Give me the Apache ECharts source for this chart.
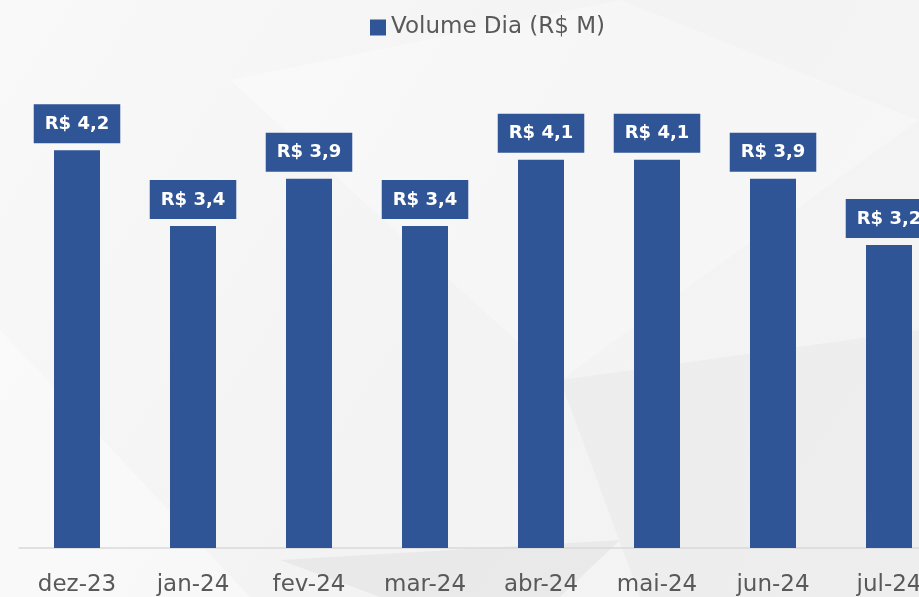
<!DOCTYPE html>
<html>
<head>
<meta charset="utf-8">
<script src="https://cdn.jsdelivr.net/npm/echarts@6/dist/echarts.min.js"></script>
<style>
  html, body { margin: 0; padding: 0; }
  #chart { width: 919px; height: 597px; }
</style>
</head>
<body>
<div id="chart"></div>
<script>
// dados do gráfico
const meses = ['dez-23', 'jan-24', 'fev-24', 'mar-24', 'abr-24', 'mai-24', 'jun-24', 'jul-24'];
const volumeDia = [4.2, 3.4, 3.9, 3.4, 4.1, 4.1, 3.9, 3.2];

const chart = echarts.init(document.getElementById('chart'));

const option = {
  backgroundColor: new echarts.graphic.LinearGradient(0, 0, 1, 1, [
    { offset: 0, color: '#f9f9f9' },
    { offset: 0.5, color: '#f3f3f3' },
    { offset: 1, color: '#f4f4f4' }
  ]),
  // formas decorativas do fundo
  graphic: [
    { type: 'polygon', silent: true, z: -10, shape: { points: [[230, 80], [620, 0], [919, 120], [560, 380]] }, style: { fill: 'rgba(255,255,255,0.3)' } },
    { type: 'polygon', silent: true, z: -10, shape: { points: [[560, 380], [919, 330], [919, 597], [640, 597]] }, style: { fill: 'rgba(0,0,0,0.025)' } },
    { type: 'polygon', silent: true, z: -10, shape: { points: [[0, 330], [250, 597], [0, 597]] }, style: { fill: 'rgba(255,255,255,0.4)' } },
    { type: 'polygon', silent: true, z: -10, shape: { points: [[280, 560], [620, 540], [560, 597], [380, 597]] }, style: { fill: 'rgba(0,0,0,0.04)' } }
  ],
  legend: {
    top: 11,
    left: 365,
    itemWidth: 16,
    itemHeight: 16,
    itemGap: 8,
    icon: 'rect',
    textStyle: { fontFamily: 'DejaVu Sans', fontSize: 23, color: '#595959' }
  },
  grid: { left: 19, top: 74.5, right: -28, bottom: 49, containLabel: false, outerBoundsMode: 'none' },
  xAxis: {
    type: 'category',
    data: meses,
    axisLine: { lineStyle: { color: '#d9d9d9', width: 1.5 } },
    axisTick: { show: false },
    axisLabel: { fontFamily: 'DejaVu Sans', fontSize: 23, color: '#595959', margin: 26 }
  },
  yAxis: {
    type: 'value',
    min: 0,
    max: 5,
    show: false,
    splitLine: { show: false }
  },
  series: [{
    name: 'Volume Dia (R$ M)',
    type: 'bar',
    data: volumeDia,
    barWidth: 46,
    itemStyle: { color: '#2F5597' },
    label: {
      show: true,
      position: 'top',
      distance: 7,
      formatter: p => 'R$ ' + p.value.toFixed(1).replace('.', ','),
      fontFamily: 'DejaVu Sans',
      fontWeight: 'bold',
      fontSize: 18,
      color: '#ffffff',
      backgroundColor: '#2F5597',
      padding: [11, 11, 10, 11]
    }
  }]
};

chart.setOption(option);
</script>
</body>
</html>
